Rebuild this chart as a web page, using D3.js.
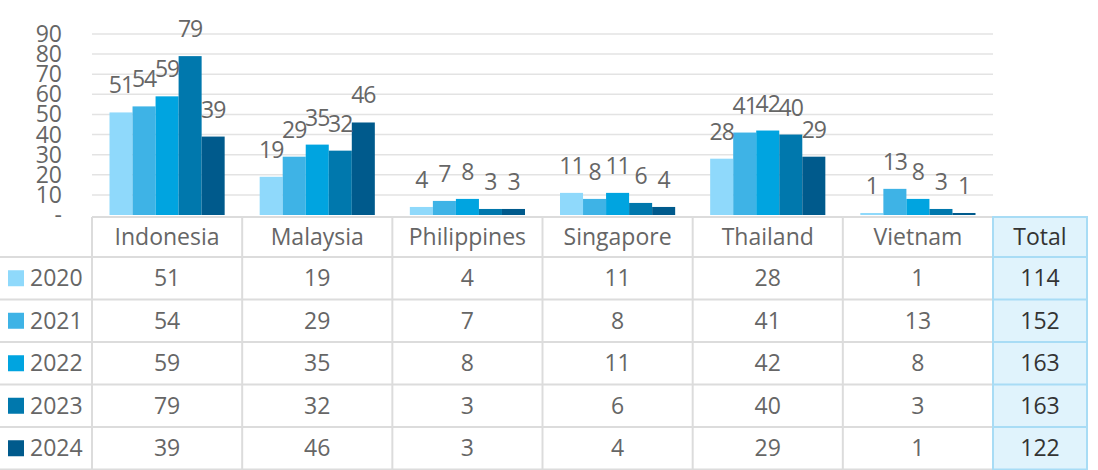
<!DOCTYPE html>
<html>
<head>
<meta charset="utf-8">
<script src="https://cdn.jsdelivr.net/npm/d3@7"></script>
<style>
  body { margin: 0; background: #fff; }
  svg text { font-family: "Open Sans", "Noto Sans", sans-serif; }
</style>
</head>
<body>
<div id="chart"></div>
<script>
// data
var countries = ["Indonesia", "Malaysia", "Philippines", "Singapore", "Thailand", "Vietnam"];
var years = ["2020", "2021", "2022", "2023", "2024"];
var values2020 = [51, 19, 4, 11, 28, 1];
var values2021 = [54, 29, 7, 8, 41, 13];
var values2022 = [59, 35, 8, 11, 42, 8];
var values2023 = [79, 32, 3, 6, 40, 3];
var values2024 = [39, 46, 3, 4, 29, 1];
var totals = [114, 152, 163, 163, 122];
var yTicks = [0, 10, 20, 30, 40, 50, 60, 70, 80, 90];
var colors = ["#8fd9fb", "#3eb3e6", "#00a4e0", "#0078ad", "#005a8c"];

var series = [values2020, values2021, values2022, values2023, values2024];

var width = 1098, height = 470;
var plotLeft = 92, plotRight = 993, plotTop = 34, plotBottom = 215;
var tableTop = 217, headerH = 40, rowH = 42.5;
var totalRight = 1087;
var fontSize = 23;
var textGrey = "#666";

var svg = d3.select("#chart").append("svg")
    .attr("width", width)
    .attr("height", height);

// scales
var x0 = d3.scaleBand().domain(countries).range([plotLeft, plotRight]).paddingInner(0).paddingOuter(0);
var x1 = d3.scaleBand().domain(years).range([0, x0.bandwidth()]).paddingOuter(0.76).paddingInner(0);
var y = d3.scaleLinear().domain([0, 90]).range([plotBottom, plotTop]);

// gridlines
svg.append("g")
    .selectAll("line")
    .data(yTicks.slice(1))
    .join("line")
    .attr("x1", plotLeft).attr("x2", plotRight)
    .attr("y1", d => y(d)).attr("y2", d => y(d))
    .attr("stroke", "#e3e3e3")
    .attr("stroke-width", 1.5);

// y axis labels
svg.append("g")
    .selectAll("text")
    .data(yTicks)
    .join("text")
    .attr("x", 62)
    .attr("y", d => y(d) + 8)
    .attr("text-anchor", "end")
    .attr("font-size", fontSize)
    .attr("fill", textGrey)
    .text(d => d === 0 ? "-" : d);

// bars
var groups = svg.append("g")
    .selectAll("g")
    .data(countries)
    .join("g")
    .attr("transform", d => "translate(" + x0(d) + ",0)");

groups.selectAll("rect")
    .data((c, i) => years.map((yr, j) => ({ year: yr, value: series[j][i], j: j })))
    .join("rect")
    .attr("x", d => x1(d.year))
    .attr("y", d => y(d.value))
    .attr("width", x1.bandwidth())
    .attr("height", d => y(0) - y(d.value))
    .attr("fill", d => colors[d.j]);

groups.selectAll("text")
    .data((c, i) => years.map((yr, j) => ({ year: yr, value: series[j][i], j: j })))
    .join("text")
    .attr("x", d => x1(d.year) + x1.bandwidth() / 2)
    .attr("y", d => y(d.value) - 19)
    .attr("text-anchor", "middle")
    .attr("font-size", fontSize)
    .attr("letter-spacing", -1)
    .attr("fill", textGrey)
    .text(d => d.value);

// data table
var table = svg.append("g");
var gridColor = "#dcdcdc";
var rowY = function(i) { return tableTop + headerH + i * rowH; };

// total column background
table.append("rect")
    .attr("x", plotRight).attr("y", tableTop)
    .attr("width", totalRight - plotRight).attr("height", height - tableTop)
    .attr("fill", "#e0f3fc");

// horizontal lines
table.append("line")
    .attr("x1", plotLeft).attr("x2", plotRight)
    .attr("y1", tableTop).attr("y2", tableTop)
    .attr("stroke", gridColor).attr("stroke-width", 2);
table.selectAll("line.row")
    .data(d3.range(years.length + 1))
    .join("line")
    .attr("class", "row")
    .attr("x1", 0).attr("x2", plotRight)
    .attr("y1", d => rowY(d)).attr("y2", d => rowY(d))
    .attr("stroke", gridColor).attr("stroke-width", 2);

// vertical lines
table.selectAll("line.col")
    .data(countries)
    .join("line")
    .attr("class", "col")
    .attr("x1", d => x0(d)).attr("x2", d => x0(d))
    .attr("y1", tableTop).attr("y2", height)
    .attr("stroke", gridColor).attr("stroke-width", 2);

// total column borders
var totalBorder = "#a8dcf5";
table.append("rect")
    .attr("x", plotRight).attr("y", tableTop)
    .attr("width", totalRight - plotRight).attr("height", height - tableTop + 5)
    .attr("fill", "none")
    .attr("stroke", totalBorder).attr("stroke-width", 2);
table.selectAll("line.trow")
    .data(d3.range(years.length + 1))
    .join("line")
    .attr("class", "trow")
    .attr("x1", plotRight).attr("x2", totalRight)
    .attr("y1", d => rowY(d)).attr("y2", d => rowY(d))
    .attr("stroke", totalBorder).attr("stroke-width", 2);

// header
table.selectAll("text.head")
    .data(countries)
    .join("text")
    .attr("class", "head")
    .attr("x", d => x0(d) + x0.bandwidth() / 2)
    .attr("y", tableTop + 28)
    .attr("text-anchor", "middle")
    .attr("font-size", fontSize)
    .attr("fill", textGrey)
    .text(d => d);
table.append("text")
    .attr("x", (plotRight + totalRight) / 2)
    .attr("y", tableTop + 28)
    .attr("text-anchor", "middle")
    .attr("font-size", fontSize)
    .attr("fill", "#333")
    .text("Total");

// rows
years.forEach(function(yr, j) {
    var cy = rowY(j) + rowH / 2;
    table.append("rect")
        .attr("x", 8).attr("y", cy - 8)
        .attr("width", 16).attr("height", 16)
        .attr("fill", colors[j]);
    table.append("text")
        .attr("x", 30).attr("y", cy + 8)
        .attr("font-size", fontSize)
        .attr("fill", textGrey)
        .text(yr);
    table.selectAll("text.v" + j)
        .data(countries)
        .join("text")
        .attr("class", "v" + j)
        .attr("x", d => x0(d) + x0.bandwidth() / 2)
        .attr("y", cy + 8)
        .attr("text-anchor", "middle")
        .attr("font-size", fontSize)
        .attr("fill", textGrey)
        .text((d, i) => series[j][i]);
    table.append("text")
        .attr("x", (plotRight + totalRight) / 2)
        .attr("y", cy + 8)
        .attr("text-anchor", "middle")
        .attr("font-size", fontSize)
        .attr("fill", "#333")
        .text(totals[j]);
});
</script>
</body>
</html>
